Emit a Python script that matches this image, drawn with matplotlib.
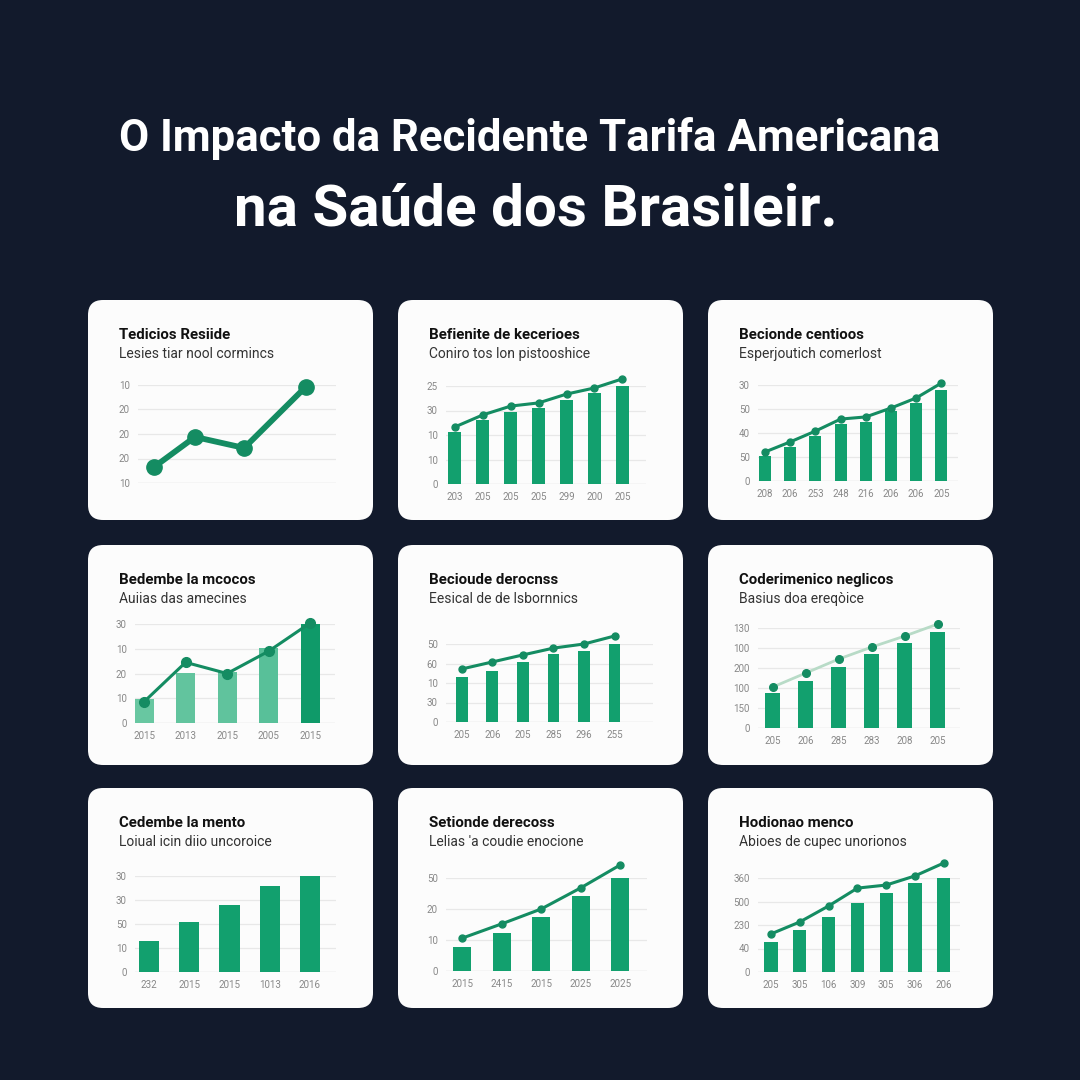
import matplotlib
matplotlib.use("Agg")
import matplotlib.pyplot as plt
from matplotlib.patches import FancyBboxPatch

plt.rcParams['font.family'] = ['Roboto', 'DejaVu Sans']

# titulo
title_1 = "O Impacto da Recidente Tarifa Americana"
title_2 = "na Saúde dos Brasileir."

# textos dos cartoes
card_titles = ["Tedicios Resiide", "Befienite de kecerioes", "Becionde centioos",
               "Bedembe la mcocos", "Becioude derocnss", "Coderimenico neglicos",
               "Cedembe la mento", "Setionde derecoss", "Hodionao menco"]
card_subtitles = ["Lesies tiar nool cormincs", "Coniro tos lon pistooshice", "Esperjoutich comerlost",
                  "Auiias das amecines", "Eesical de de lsbornnics", "Basius doa ereqòice",
                  "Loiual icin diio uncoroice", "Lelias 'a coudie enocione", "Abioes de cupec unorionos"]

# rotulos do eixo y (de baixo para cima) e do eixo x
y_labels_1 = ["10", "20", "20", "20", "10"]
y_labels_2 = ["0", "10", "10", "30", "25"]
y_labels_3 = ["0", "50", "40", "50", "30"]
y_labels_4 = ["0", "10", "20", "10", "30"]
y_labels_5 = ["0", "30", "10", "60", "50"]
y_labels_6 = ["0", "150", "100", "200", "100", "130"]
y_labels_7 = ["0", "10", "50", "30", "30"]
y_labels_8 = ["0", "10", "20", "50"]
y_labels_9 = ["0", "40", "230", "500", "360"]

x_labels_2 = ["203", "205", "205", "205", "299", "200", "205"]
x_labels_3 = ["208", "206", "253", "248", "216", "206", "206", "205"]
x_labels_4 = ["2015", "2013", "2015", "2005", "2015"]
x_labels_5 = ["205", "206", "205", "285", "296", "255"]
x_labels_6 = ["205", "206", "285", "283", "208", "205"]
x_labels_7 = ["232", "2015", "2015", "1013", "2016"]
x_labels_8 = ["2015", "2415", "2015", "2025", "2025"]
x_labels_9 = ["205", "305", "106", "309", "305", "306", "206"]

# valores (em unidades de linha de grade)
line_x_1 = [0, 1, 2.2, 3.7]
line_1 = [0.65, 1.88, 1.43, 3.92]
bars_2 = [2.12, 2.61, 2.94, 3.10, 3.43, 3.71, 4.0]
line_2 = [2.33, 2.82, 3.18, 3.31, 3.67, 3.92, 4.29]
bars_3 = [1.04, 1.42, 1.88, 2.38, 2.46, 2.92, 3.25, 3.79]
line_3 = [1.21, 1.63, 2.08, 2.58, 2.67, 3.04, 3.46, 4.08]
bars_4 = [0.98, 2.04, 2.08, 3.02, 4.04]
line_4 = [0.86, 2.45, 2.0, 2.9, 4.04]
bars_5 = [2.31, 2.62, 3.08, 3.49, 3.64, 4.0]
line_5 = [2.72, 3.08, 3.44, 3.79, 4.0, 4.41]
bars_6 = [1.75, 2.35, 3.05, 3.70, 4.25, 4.8]
line_6 = [2.05, 2.75, 3.45, 4.05, 4.6, 5.2]
bars_7 = [1.29, 2.08, 2.79, 3.58, 4.12]
bars_8 = [0.77, 1.23, 1.74, 2.42, 3.06]
line_8 = [1.06, 1.52, 2.0, 2.68, 3.42]
bars_9 = [1.28, 1.79, 2.34, 2.94, 3.36, 3.79, 4.21]
line_9 = [1.62, 2.13, 2.81, 3.57, 3.70, 4.09, 4.64]

BG = '#121a2c'
GREEN = '#12a06e'
LINE = '#148c62'
LIGHT = ['#68c7a1', '#62c49e', '#60c39d', '#58c099', '#0f9a69']

W = 1080.0
fig = plt.figure(figsize=(10.8, 10.8), dpi=100, facecolor=BG)


def fx(x):
    return x / W


def fy(y):
    return 1 - y / W


fig.text(fx(530), fy(138), title_1, color='white', fontsize=31.5, fontweight='bold',
         ha='center', va='center')
fig.text(fx(536), fy(210), title_2, color='white', fontsize=42, fontweight='bold',
         ha='center', va='center')

# cartoes
col_x = [88, 398, 708]
row_y = [300, 545, 788]
card_w, card_h = 285, 220
for i in range(9):
    cx = col_x[i % 3]
    cy = row_y[i // 3]
    box = FancyBboxPatch((fx(cx), fy(cy + card_h)), card_w / W, card_h / W,
                         boxstyle="round,pad=0,rounding_size=%f" % (15 / W),
                         transform=fig.transFigure, facecolor='#fcfcfc', edgecolor='none',
                         zorder=-5)
    fig.patches.append(box)
    fig.text(fx(cx + 31), fy(cy + 35), card_titles[i], fontsize=10.8, fontweight='bold',
             color='#111111', ha='left', va='center')
    fig.text(fx(cx + 31), fy(cy + 54), card_subtitles[i], fontsize=10, color='#333333',
             ha='left', va='center')


def make_ax(l, t, r, b, xlim, ylabels, xlabels):
    ax = fig.add_axes([fx(l), fy(b), (r - l) / W, (b - t) / W])
    ax.set_facecolor('none')
    n = len(ylabels)
    ax.set_ylim(0, n - 1)
    ax.set_xlim(*xlim)
    ax.set_yticks(range(n))
    ax.set_yticklabels(ylabels)
    if xlabels is None:
        ax.set_xticks([])
    else:
        ax.set_xticks(range(len(xlabels)))
        ax.set_xticklabels(xlabels)
    for s in ax.spines.values():
        s.set_visible(False)
    ax.tick_params(length=0, labelsize=7, labelcolor='#888888', pad=6)
    ax.yaxis.grid(True, color='#e8e8e8', linewidth=0.9)
    ax.set_axisbelow(True)
    ax.axhline(0, color='#e2e2e2', linewidth=0.9, zorder=0)
    return ax


# 1
ax = make_ax(138, 385, 336, 483, (-0.39, 4.44), y_labels_1, None)
ax.plot(line_x_1, line_1, color=LINE, linewidth=4.2, marker='o', markersize=11,
        solid_capstyle='round', clip_on=False)

# 2
ax = make_ax(446, 386, 646, 484, (-0.32, 6.85), y_labels_2, x_labels_2)
x = range(len(bars_2))
ax.bar(x, bars_2, width=0.47, color=GREEN)
ax.plot(x, line_2, color=LINE, linewidth=2.2, marker='o', markersize=5, clip_on=False)

# 3
ax = make_ax(758, 385, 958, 481, (-0.28, 7.66), y_labels_3, x_labels_3)
x = range(len(bars_3))
ax.bar(x, bars_3, width=0.48, color=GREEN)
ax.plot(x, line_3, color=LINE, linewidth=2.2, marker='o', markersize=5, clip_on=False)

# 4
ax = make_ax(135, 624, 335, 723, (-0.22, 4.6), y_labels_4, x_labels_4)
x = range(len(bars_4))
ax.bar(x, bars_4, width=0.46, color=LIGHT)
ax.plot(x, line_4, color=LINE, linewidth=2.2, marker='o', markersize=7, clip_on=False)

# 5
ax = make_ax(446, 644, 653, 722, (-0.52, 6.26), y_labels_5, x_labels_5)
x = range(len(bars_5))
ax.bar(x, bars_5, width=0.39, color=GREEN)
ax.plot(x, line_5, color=LINE, linewidth=2.2, marker='o', markersize=5, clip_on=False)

# 6
ax = make_ax(758, 628, 960, 728, (-0.45, 5.67), y_labels_6, x_labels_6)
x = range(len(bars_6))
ax.bar(x, bars_6, width=0.45, color=GREEN)
ax.plot(x, line_6, color='#b8dbc7', linewidth=2.0, clip_on=False)
ax.plot(x, line_6, linestyle='none', marker='o', markersize=5.5, color=LINE, clip_on=False)

# 7
ax = make_ax(135, 876, 336, 972, (-0.35, 4.65), y_labels_7, x_labels_7)
x = range(len(bars_7))
ax.bar(x, bars_7, width=0.5, color=GREEN)

# 8
ax = make_ax(446, 878, 647, 971, (-0.41, 4.68), y_labels_8, x_labels_8)
x = range(len(bars_8))
ax.bar(x, bars_8, width=0.46, color=GREEN)
ax.plot(x, line_8, color=LINE, linewidth=2.2, marker='o', markersize=5, clip_on=False)

# 9
ax = make_ax(758, 878, 960, 972, (-0.45, 6.56), y_labels_9, x_labels_9)
x = range(len(bars_9))
ax.bar(x, bars_9, width=0.46, color=GREEN)
ax.plot(x, line_9, color=LINE, linewidth=2.2, marker='o', markersize=5, clip_on=False)

plt.savefig("out.png", dpi=100, facecolor=BG)
